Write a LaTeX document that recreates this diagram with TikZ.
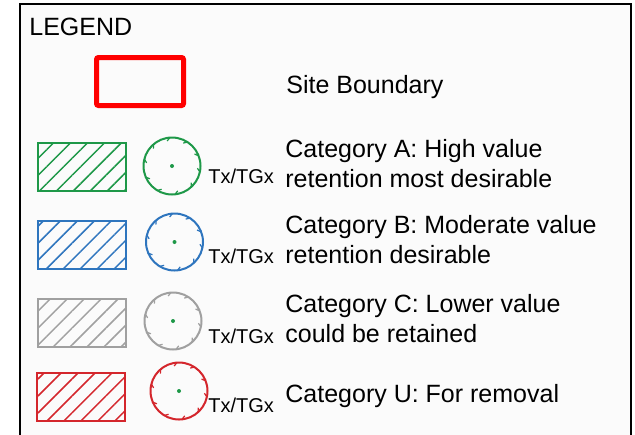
\documentclass[tikz,border=0pt]{standalone}
\usepackage{fontspec}
\setmainfont{Liberation Sans}
\usetikzlibrary{patterns.meta, calc}

\definecolor{catA}{RGB}{30,152,72}
\definecolor{catB}{RGB}{46,117,190}
\definecolor{catC}{RGB}{160,160,160}
\definecolor{catU}{RGB}{212,38,44}
\definecolor{sitered}{RGB}{255,0,0}
\definecolor{paper}{RGB}{251,251,251}

\tikzset{
  legtext/.style={anchor=base west, inner sep=0pt, align=left,
    font=\fontsize{12.5}{15}\selectfont},
  tagtext/.style={anchor=base west, inner sep=0pt,
    font=\fontsize{10}{12}\selectfont},
  catbox/.style={draw=#1, line width=1pt, minimum width=44pt,
    minimum height=24pt, inner sep=0pt, pattern color=#1,
    pattern={Lines[angle=45, distance=6pt, line width=0.75pt]}},
  tree/.style={circle, draw=#1, line width=1pt, minimum size=28.5pt, inner sep=0pt}
}

\begin{document}
\begin{tikzpicture}[x=0.5pt, y=-0.5pt]
\useasboundingbox (0,0) rectangle (635,434);
\clip (0,0) rectangle (635,434);

% Legend frame
\draw[line width=1pt, fill=paper] (20,4) rectangle (630.5,460);
\node[legtext] (legend) at (29,35) {LEGEND};

% Site boundary
\node[draw=sitered, line width=2.5pt, rounded corners=1pt, minimum width=43.5pt,
  minimum height=24pt, inner sep=0pt] (site) at (140,81.5) {};
\node[legtext] (siteText) at (286,93) {Site Boundary};

% Category rows: hatched box, tree symbol, tag
\foreach \n/\bx/\by/\cx/\cy/\ty in {A/82/167/172/166/183.3, B/82/244.5/174.5/242/263.3,
    C/82/322.5/173/321/343.3, U/81/397/179/391/412.3} {
  \node[catbox=cat\n] (box\n) at (\bx,\by) {};
  \node[tree=cat\n] (tree\n) at (\cx,\cy) {};
  \fill[catA] (tree\n.center) circle (2);
  \foreach \a in {12,48,84,121,157,194,230,266,303,339}
    \draw[cat\n, line width=0.6pt] ($(tree\n.center)+(\a:28.5)$) -- ($(tree\n.center)+(\a-7:25.5)$);
  \node[tagtext] (tag\n) at (208,\ty) {Tx/TGx};
}

% Category descriptions (base = last line)
\node[legtext] (textA) at (285,187.3) {Category A: High value\\retention most desirable};
\node[legtext] (textB) at (285,263.3) {Category B: Moderate value\\retention desirable};
\node[legtext] (textC) at (285,342.3) {Category C: Lower value\\could be retained};
\node[legtext] (textU) at (285,402.7) {Category U: For removal};
\end{tikzpicture}
\end{document}
